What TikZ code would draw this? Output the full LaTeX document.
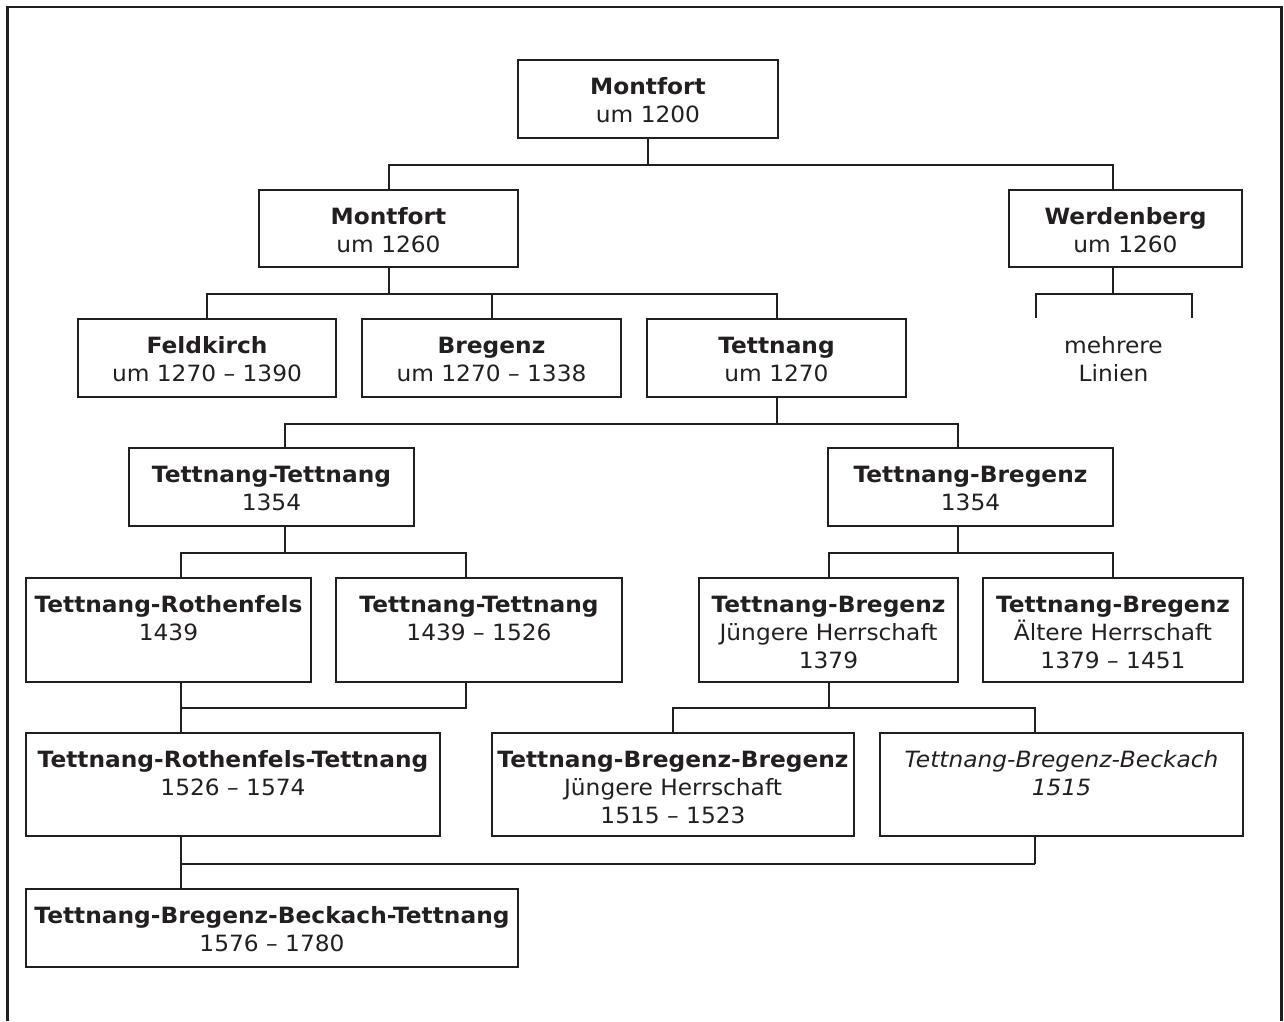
\documentclass[tikz,border=0pt]{standalone}
\usepackage{fontspec}
\setmainfont[FakeStretch=1.04]{DejaVu Sans}
\definecolor{ink}{RGB}{35,31,32}
\newcommand{\famtext}[3]{\parbox[c][#2pt][t]{#1pt}{\centering\rule{0pt}{34.5pt}#3}}
\begin{document}
\begin{tikzpicture}[x=1pt,y=-1pt,
  fambox/.style={draw=ink, line width=2pt, inner sep=0pt, anchor=north west,
    font=\fontsize{22.4}{28}\selectfont, text=ink},
  plainbox/.style={fambox, draw=none},
  conn/.style={draw=ink, line width=2pt},
  framestyle/.style={draw=ink, line width=2.6pt}]
\useasboundingbox (0,0) rectangle (1284,1021);
\draw[framestyle] (7.5,1021) |- (1281.5,7) -- (1281.5,1021);

% nodes
\node[fambox] (m1200) at (517,59) {\famtext{260}{78}{\textbf{Montfort}\\um 1200}};
\node[fambox] (m1260) at (258,189) {\famtext{259}{77}{\textbf{Montfort}\\um 1260}};
\node[fambox] (werd) at (1008,189) {\famtext{233}{77}{\textbf{Werdenberg}\\um 1260}};
\node[fambox] (feld) at (77,318) {\famtext{258}{78}{\textbf{Feldkirch}\\um 1270 – 1390}};
\node[fambox] (breg) at (361,318) {\famtext{259}{78}{\textbf{Bregenz}\\um 1270 – 1338}};
\node[fambox] (tett) at (646,318) {\famtext{259}{78}{\textbf{Tettnang}\\um 1270}};
\node[plainbox] (linien) at (983,318) {\famtext{259}{78}{mehrere\\Linien}};
\node[fambox] (tt1354) at (128,447) {\famtext{285}{78}{\textbf{Tettnang-Tettnang}\\1354}};
\node[fambox] (tb1354) at (827,447) {\famtext{285}{78}{\textbf{Tettnang-Bregenz}\\1354}};
\node[fambox] (rothen) at (25,577) {\famtext{285}{104}{\textbf{Tettnang-Rothenfels}\\1439}};
\node[fambox] (tt1439) at (335,577) {\famtext{286}{104}{\textbf{Tettnang-Tettnang}\\1439 – 1526}};
\node[fambox] (tbj) at (698,577) {\famtext{259}{104}{\textbf{Tettnang-Bregenz}\\Jüngere Herrschaft\\1379}};
\node[fambox] (tba) at (982,577) {\famtext{260}{104}{\textbf{Tettnang-Bregenz}\\Ältere Herrschaft\\1379 – 1451}};
\node[fambox] (rtt) at (25,732) {\famtext{414}{103}{\textbf{Tettnang-Rothenfels-Tettnang}\\1526 – 1574}};
\node[fambox] (tbb) at (491,732) {\famtext{362}{103}{\textbf{Tettnang-Bregenz-Bregenz}\\Jüngere Herrschaft\\1515 – 1523}};
\node[fambox] (tbbeck) at (879,732) {\famtext{363}{103}{\textit{Tettnang-Bregenz-Beckach}\\\textit{1515}}};
\node[fambox] (tbbt) at (25,888) {\famtext{492}{78}{\textbf{Tettnang-Bregenz-Beckach-Tettnang}\\1576 – 1780}};

% connectors
\draw[conn] (m1200.south) -- ++(0,26) coordinate (ja);
\draw[conn] (m1260.north) |- (ja) -| ([xshift=-12.5pt]werd.north);

\draw[conn] (m1260.south) -- ++(0,26) coordinate (jb);
\draw[conn] (feld.north) |- (jb) -| (tett.north);
\draw[conn] (breg.north) -- (breg.north |- jb);

\draw[conn] ([xshift=-12.5pt]werd.south) -- ++(0,26) coordinate (jc);
\draw[conn] ([xshift=-78pt]linien.north) |- (jc) -| ([xshift=78pt]linien.north);

\draw[conn] (tett.south) -- ++(0,26) coordinate (jd);
\draw[conn] ([xshift=13.5pt]tt1354.north) |- (jd) -| ([xshift=-12.5pt]tb1354.north);

\draw[conn] ([xshift=13.5pt]tt1354.south) -- ++(0,26) coordinate (je);
\draw[conn] ([xshift=12.5pt]rothen.north) |- (je) -| ([xshift=-13pt]tt1439.north);

\draw[conn] ([xshift=-12.5pt]tb1354.south) -- ++(0,26) coordinate (jf);
\draw[conn] (tbj.north) |- (jf) -| (tba.north);

\draw[conn] ([xshift=12.5pt]rothen.south) -- ++(0,25) coordinate (jg);
\draw[conn] (jg) -| ([xshift=-13pt]tt1439.south);
\draw[conn] (jg) -- ([xshift=-52pt]rtt.north);

\draw[conn] (tbj.south) -- ++(0,25) coordinate (jh);
\draw[conn] (tbb.north) |- (jh) -| ([xshift=-26.5pt]tbbeck.north);

\draw[conn] ([xshift=-52pt]rtt.south) -- ([xshift=-91pt]tbbt.north);
\draw[conn] ([xshift=-26.5pt]tbbeck.south) -- ++(0,27) coordinate (ji);
\draw[conn] (ji) -| ([xshift=-91pt]tbbt.north);
\end{tikzpicture}
\end{document}
